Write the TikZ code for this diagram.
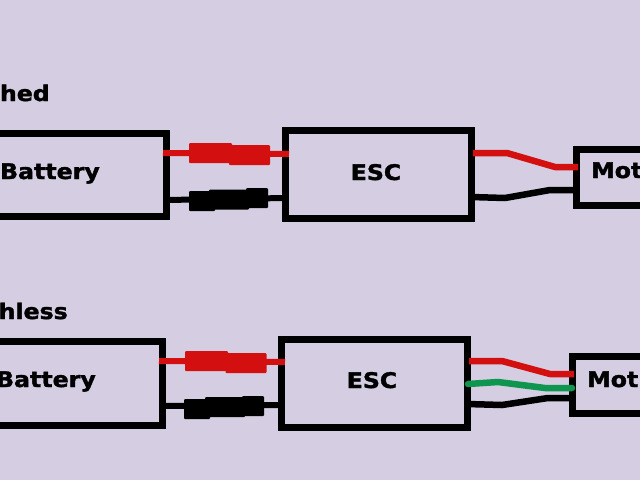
\documentclass[tikz,border=0pt]{standalone}
\usepackage{fontspec}
\setmainfont{DejaVu Sans}
\newfontfamily\labfont[FakeBold=1.6]{DejaVu Sans Bold}
\definecolor{bgc}{HTML}{D5CDE1}
\definecolor{wred}{HTML}{D40F0F}
\definecolor{wgreen}{HTML}{0E9550}
\tikzset{
  box/.style={draw=black,line width=7pt,minimum width=#1,inner sep=0pt,outer sep=0pt},
  lab/.style={font=\fontsize{21.5}{25}\labfont,text=black,inner sep=0pt,transform shape,xscale=1.1},
  wire/.style={line width=6.5pt,line join=round},
  wirethin/.style={line width=6pt},
  plug/.style={rounded corners=1pt,inner sep=0pt,minimum height=20pt}
}
\begin{document}
\begin{tikzpicture}[x=1pt,y=-1pt]
\useasboundingbox (0,0) rectangle (640,480);
\clip (0,0) rectangle (640,480);
\fill[bgc] (0,0) rectangle (640,480);
% boxes
\node[box=206pt,minimum height=82.5pt] (bat1) at (63.5,174.75) {};
\node[box=186pt,minimum height=88pt] (esc1) at (378,174) {};
\node[box=100pt,minimum height=56pt] (mot1) at (626,177) {};
\node[box=202pt,minimum height=84pt] (bat2) at (61,383) {};
\node[box=186pt,minimum height=88pt] (esc2) at (374,383) {};
\node[box=100pt,minimum height=57pt] (mot2) at (622,384.5) {};
% labels
\node[lab,anchor=base east] (t1) at (50,101) {hed};
\node[lab,anchor=base east] (t2) at (68,319) {hless};
\node[lab,anchor=base east] (b1) at (100,179) {Battery};
\node[lab,anchor=base east] (b2) at (96,387) {Battery};
\node[lab,anchor=base] (e1) at (376,180) {ESC};
\node[lab,anchor=base] (e2) at (372,388) {ESC};
\node[lab,anchor=base west] (m1) at (591,178) {Mot};
\node[lab,anchor=base west] (m2) at (587,387) {Mot};
% upper connector wires
\coordinate (r1a) at (163,153);\coordinate (r1b) at (289,154);
\coordinate (k1a) at (166,200);\coordinate (k1b) at (285,198);
\draw[wirethin,wred] (r1a) -- (r1b);
\draw[wirethin,black] (k1a) -- (k1b);
\node[plug,fill=wred,minimum width=43pt] (pr1a) at (210.5,153) {};
\node[plug,fill=wred,minimum width=41pt] (pr1b) at (249.5,155) {};
\node[plug,fill=black,minimum width=26pt] (pk1a) at (202,201) {};
\node[plug,fill=black,minimum width=40pt] (pk1b) at (229,199.5) {};
\node[plug,fill=black,minimum width=22pt] (pk1c) at (257,198) {};
% lower connector wires
\coordinate (r2a) at (159,361);\coordinate (r2b) at (285,362);
\coordinate (k2a) at (162,406);\coordinate (k2b) at (281,405);
\draw[wirethin,wred] (r2a) -- (r2b);
\draw[wirethin,black] (k2a) -- (k2b);
\node[plug,fill=wred,minimum width=43pt] (pr2a) at (206.5,361) {};
\node[plug,fill=wred,minimum width=41pt] (pr2b) at (246,363) {};
\node[plug,fill=black,minimum width=26pt] (pk2a) at (197,409) {};
\node[plug,fill=black,minimum width=40pt] (pk2b) at (225,407) {};
\node[plug,fill=black,minimum width=22pt] (pk2c) at (253,406) {};
% motor wires, upper
\coordinate (a1) at (473,153);\coordinate (a2) at (507,153);\coordinate (a3) at (555,167);\coordinate (a4) at (578,167);
\coordinate (c1) at (471,197);\coordinate (c2) at (505,198);\coordinate (c3) at (550,190);\coordinate (c4) at (576,190);
\draw[wire,wred] (a1) -- (a2) -- (a3) -- (a4);
\draw[wire,black] (c1) -- (c2) -- (c3) -- (c4);
% motor wires, lower
\coordinate (d1) at (469,361);\coordinate (d2) at (502,361);\coordinate (d3) at (550,374);\coordinate (d4) at (574,374);
\coordinate (g1) at (468,384);\coordinate (g2) at (498,382);\coordinate (g3) at (545,388);\coordinate (g4) at (572,388);
\coordinate (h1) at (467,404);\coordinate (h2) at (502,405);\coordinate (h3) at (548,398);\coordinate (h4) at (572,398);
\draw[wire,wred] (d1) -- (d2) -- (d3) -- (d4);
\draw[wire,wgreen,line cap=round] (g1) -- (g2) -- (g3) -- (g4);
\draw[wire,black] (h1) -- (h2) -- (h3) -- (h4);
\end{tikzpicture}
\end{document}
